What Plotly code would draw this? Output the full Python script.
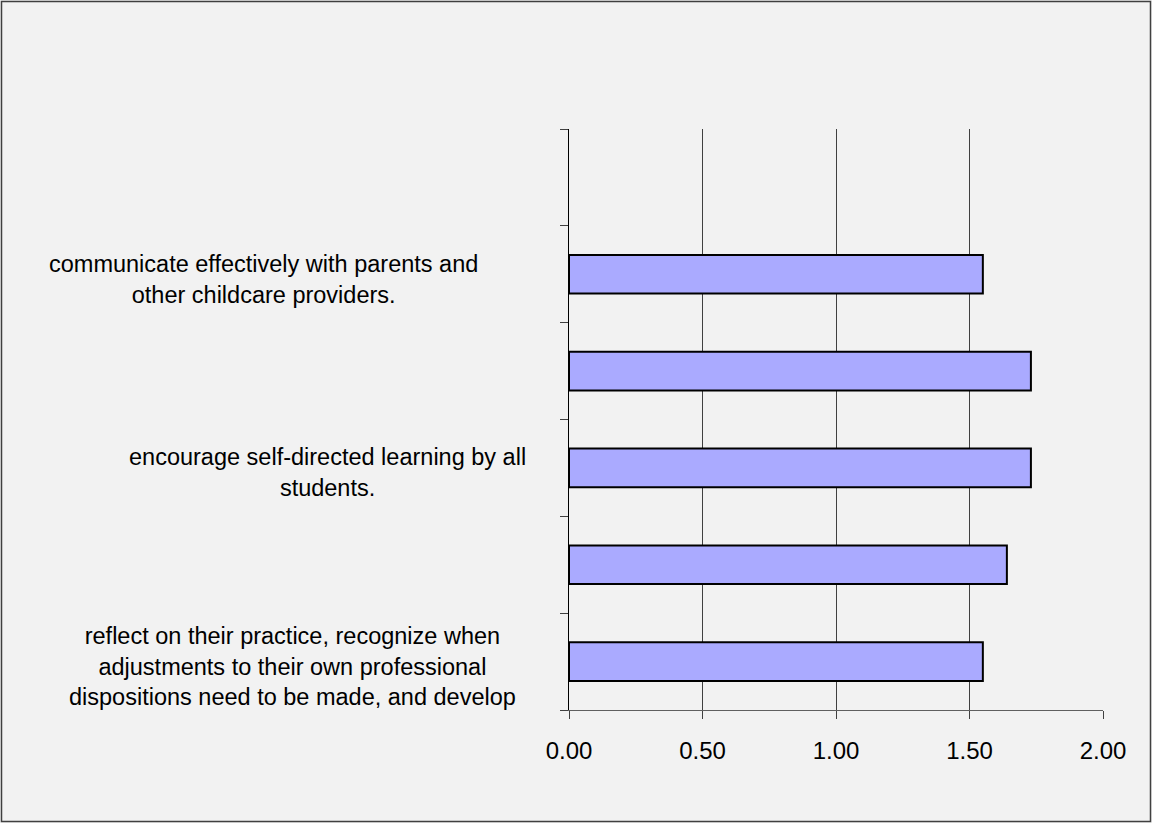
import plotly.graph_objects as go

# ---- data ----
categories = ["c1", "c2", "c3", "c4", "c5", "c6"]  # bottom to top
values = [1.55, 1.64, 1.73, 1.73, 1.55, None]
labels = [
    "reflect on their practice, recognize when<br>adjustments to their own professional<br>dispositions need to be made, and develop",
    "",
    "encourage self-directed learning by all<br>students.",
    "",
    "communicate effectively with parents and<br>other childcare providers.",
    "",
]
x_tickvals = [0, 0.5, 1.0, 1.5, 2.0]
x_ticktext = ["0.00", "0.50", "1.00", "1.50", "2.00"]

# ---- layout constants ----
W, H = 1152, 823
ML, MR, MT, MB = 569, 49, 129, 113
PW = W - ML - MR
PH = H - MT - MB
FONT = "Liberation Sans, Arial, sans-serif"
label_centers_px = [292, None, 327, None, 263, None]

fig = go.Figure()
fig.add_trace(go.Bar(
    y=categories, x=values, orientation="h", width=0.4,
    marker=dict(color="#aaaaff", line=dict(color="black", width=2)),
    hoverinfo="x",
))

for cat, lab, cx in zip(categories, labels, label_centers_px):
    if not lab:
        continue
    fig.add_annotation(
        x=(cx - ML) / PW, xref="paper", y=cat, yref="y",
        text=lab, showarrow=False, align="center",
        xanchor="center", yanchor="middle", yshift=-5,
        font=dict(family=FONT, size=23.5, color="black"),
    )

# outer frame
def px2x(p):
    return (p - ML) / PW

def py2y(p):
    return 1 - (p - MT) / PH

fig.add_shape(type="rect", xref="paper", yref="paper",
              x0=px2x(1.5), x1=px2x(1150.5), y0=py2y(821.5), y1=py2y(1.5),
              line=dict(color="#404040", width=1.5), fillcolor="rgba(0,0,0,0)",
              layer="below")

fig.update_layout(
    width=W, height=H,
    margin=dict(l=ML, r=MR, t=MT, b=MB, pad=0),
    paper_bgcolor="#f2f2f2", plot_bgcolor="#f2f2f2",
    showlegend=False,
    font=dict(family=FONT, size=24, color="black"),
    bargap=0.6,
)
fig.update_xaxes(
    range=[0, 2], tickvals=x_tickvals, ticktext=x_ticktext,
    showgrid=True, gridcolor="#404040", gridwidth=1,
    showline=True, linecolor="#606060", linewidth=1,
    ticks="outside", ticklen=8, tickcolor="#404040",
    tickfont=dict(family=FONT, size=24, color="black"),
    ticklabelstandoff=11,
    zeroline=False, fixedrange=True,
)
fig.update_yaxes(
    type="category", categoryorder="array", categoryarray=categories,
    range=[-0.5, 5.5],
    showticklabels=False, showgrid=False,
    showline=True, linecolor="black", linewidth=1,
    ticks="outside", ticklen=8, tickcolor="#404040", tickson="boundaries",
    zeroline=False, fixedrange=True,
)

fig.write_html("out.html", config={"displayModeBar": False})
